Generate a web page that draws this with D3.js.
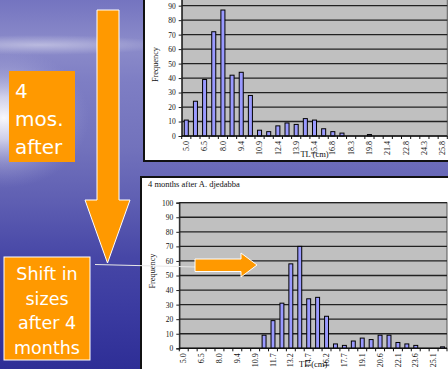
<!DOCTYPE html>
<html><head><meta charset="utf-8">
<script src="https://cdn.jsdelivr.net/npm/d3@7/dist/d3.min.js"></script>
<style>
html,body{margin:0;padding:0;overflow:hidden;background:#3a3aa0}
svg{display:block}
</style>
</head><body>
<svg id="slide" width="448" height="369"></svg>
<script>
// Length classes (TL, cm) and fish counts before and 4 months after
const beforeBins = ["5.0","5.7","6.5","7.2","8.0","8.7","9.4","10.2","10.9","11.6","12.4","13.1","13.9","14.6","15.4","16.1","16.8","17.6","18.3","19.1","19.8","20.6","21.4","22.1","22.8","23.6","24.3","25.1","25.8"];
const beforeCounts = [11,24,39,72,87,42,44,28,4,3,7,9,8,12,11,5,3,2,0,0,1,0,0,0,0,0,0,0,0];
const afterBins = ["5.0","5.7","6.5","7.2","8.0","8.7","9.4","10.2","10.9","11.3","11.7","12.4","13.2","13.9","14.7","15.4","16.2","16.9","17.7","18.4","19.1","19.9","20.6","21.4","22.1","22.8","23.6","24.3","25.1","25.8"];
const afterCounts = [0,0,0,0,0,0,0,0,0,9,19,31,58,70,34,35,22,3,2,5,7,6,9,9,4,3,2,0,0,1];
const yTicks = [0,10,20,30,40,50,60,70,80,90,100];
const afterTitle = "4 months after A. djedabba";
const xTitle = "TL (cm)";
const yTitle = "Frequency";
const note1 = ["4","mos.","after"];
const note2 = ["Shift in","sizes","after 4","months"];

const svg = d3.select("#slide");
const defs = svg.append("defs");

// slide background: blue water with a pale haze on the left
const lg = defs.append("linearGradient").attr("id","bg").attr("x1",0).attr("y1",0).attr("x2",0).attr("y2",1);
[[0,"#7474c0"],[0.12,"#8c8cca"],[0.22,"#7e7ec4"],[0.4,"#7272bc"],[0.55,"#5e5eb2"],[0.7,"#4646a6"],[0.85,"#3a3aa0"],[1,"#2e2e96"]]
  .forEach(([o,c]) => lg.append("stop").attr("offset",o).attr("stop-color",c));
const rg = defs.append("radialGradient").attr("id","haze").attr("gradientUnits","userSpaceOnUse")
  .attr("cx",0).attr("cy",0).attr("r",1)
  .attr("gradientTransform","translate(4,118) scale(85,70)");
[[0,"#ffffff",0.95],[0.3,"#e6e6f4",0.8],[0.65,"#c4c4e4",0.35],[1,"#a0a0d8",0]]
  .forEach(([o,c,a]) => rg.append("stop").attr("offset",o).attr("stop-color",c).attr("stop-opacity",a));
const sk = defs.append("radialGradient").attr("id","streak").attr("gradientUnits","userSpaceOnUse")
  .attr("cx",0).attr("cy",0).attr("r",1)
  .attr("gradientTransform","translate(40,45) scale(130,10)");
[[0,"#ffffff",0.4],[1,"#ffffff",0]]
  .forEach(([o,c,a]) => sk.append("stop").attr("offset",o).attr("stop-color",c).attr("stop-opacity",a));

svg.append("rect").attr("width",448).attr("height",369).attr("fill","url(#bg)");
svg.append("rect").attr("width",448).attr("height",369).attr("fill","url(#streak)");
svg.append("rect").attr("width",448).attr("height",369).attr("fill","url(#haze)");

const serif = "'Liberation Serif','Times New Roman',serif";

function histogram(o) {
  const g = svg.append("g");
  // white chart panel
  g.append("rect").attr("x",o.panel[0]).attr("y",o.panel[1]).attr("width",o.panel[2]).attr("height",o.panel[3])
    .attr("fill","#fff").attr("stroke","#111").attr("stroke-width",2);

  const x = d3.scaleBand().domain(o.bins).range([o.left,o.right]).paddingInner(0.56).paddingOuter(0.28);
  const y = d3.scaleLinear().domain([0,100]).range([o.base,o.top]);
  const shownTicks = yTicks.filter(t => y(t) >= 0);

  // gray plot area
  g.append("rect").attr("x",o.left).attr("y",y(100)).attr("width",o.right-o.left).attr("height",y(0)-y(100))
    .attr("fill","#c0c0c0").attr("stroke","#555").attr("stroke-width",1);

  // horizontal gridlines
  g.selectAll("line.grid").data(yTicks.filter(t => t > 0)).join("line").attr("class","grid")
    .attr("x1",o.left).attr("x2",o.right).attr("y1",d => y(d)).attr("y2",d => y(d))
    .attr("stroke","#222").attr("stroke-width",1.3);

  // bars
  g.selectAll("rect.bar").data(o.counts.map((v,i) => ({bin:o.bins[i], v})).filter(d => d.v > 0)).join("rect")
    .attr("class","bar")
    .attr("x",d => x(d.bin)).attr("width",x.bandwidth())
    .attr("y",d => y(d.v)).attr("height",d => y(0)-y(d.v))
    .attr("fill","#9a9aff").attr("stroke","#000").attr("stroke-width",1);

  // y axis
  const ya = g.append("g").attr("transform",`translate(${o.left},0)`)
    .call(d3.axisLeft(y).tickValues(shownTicks).tickSize(3).tickPadding(3));
  ya.select(".domain").attr("stroke","#222").attr("stroke-width",1.2);
  ya.selectAll(".tick line").attr("stroke","#222");
  ya.selectAll("text").attr("font-family",serif).attr("font-size",7.5).attr("fill","#111");

  // x axis line with tick marks between length classes
  g.append("line").attr("x1",o.left).attr("x2",o.right).attr("y1",y(0)).attr("y2",y(0))
    .attr("stroke","#111").attr("stroke-width",1.5);
  const bounds = o.bins.map(b => x(b) - (x.step()-x.bandwidth())/2).concat([o.right]);
  g.selectAll("line.xt").data(bounds).join("line").attr("class","xt")
    .attr("x1",d => d).attr("x2",d => d).attr("y1",y(0)).attr("y2",y(0)+3)
    .attr("stroke","#111").attr("stroke-width",1);

  // category labels on every other length class
  const xa = g.append("g").attr("transform",`translate(0,${y(0)})`)
    .call(d3.axisBottom(x).tickValues(o.bins.filter((b,i) => i % 2 === 0)).tickSize(0));
  xa.select(".domain").remove();
  xa.selectAll("text").attr("font-family",serif).attr("font-size",8).attr("fill","#111")
    .attr("transform","rotate(-90)").attr("text-anchor","end").attr("x",-5).attr("y",0).attr("dy","0.33em");

  // axis titles
  g.append("text").attr("x",(o.left+o.right)/2).attr("y",o.xTitleY).attr("text-anchor","middle")
    .attr("font-family",serif).attr("font-size",8.5).attr("fill","#111").text(xTitle);
  g.append("text").attr("transform",`translate(${o.yTitleX},${o.yTitleY}) rotate(-90)`).attr("text-anchor","middle")
    .attr("font-family",serif).attr("font-size",8.3).attr("fill","#111").text(yTitle);
  if (o.title) {
    g.append("text").attr("x",o.panel[0]+7).attr("y",o.panel[1]+10).attr("font-family",serif)
      .attr("font-size",8.5).attr("fill","#111").text(o.title);
  }
  return g;
}

histogram({bins:beforeBins, counts:beforeCounts, panel:[144,-10,312,171],
  left:181.7, right:447.3, base:136, top:-8.8, xTitleY:156.5, yTitleX:157.5, yTitleY:64.5});
histogram({bins:afterBins, counts:afterCounts, panel:[141,177,315,200], title:afterTitle,
  left:179.3, right:447, base:348.3, top:202.7, xTitleY:366.5, yTitleX:154.5, yTitleY:271});

// callouts
const orange = "#ff9900";
svg.append("path").attr("d","M97,10 L119,10 L119,200 L130,200 L107.5,263 L85,200 L97,200 Z")
  .attr("fill",orange).attr("stroke","#fff").attr("stroke-width",1);
svg.append("line").attr("x1",95).attr("y1",264.5).attr("x2",196).attr("y2",267)
  .attr("stroke","#e8e8e8").attr("stroke-width",1);
svg.append("path").attr("d","M195,259 L241,259 L241,253 L257,265 L241,277 L241,271.5 L195,271.5 Z")
  .attr("fill",orange).attr("stroke","#fff").attr("stroke-width",1);

const sans = "'DejaVu Sans',Verdana,sans-serif";
svg.append("rect").attr("x",9).attr("y",71).attr("width",66).attr("height",91).attr("fill",orange);
svg.append("g").selectAll("text").data(note1).join("text")
  .attr("x",15).attr("y",(d,i) => 98 + i*28).attr("font-family",sans).attr("font-size",20).attr("fill","#fff").text(d => d);

svg.append("rect").attr("x",4).attr("y",257).attr("width",86).attr("height",103).attr("fill",orange)
  .attr("stroke","#fff").attr("stroke-width",1);
svg.append("g").selectAll("text").data(note2).join("text")
  .attr("x",47).attr("y",(d,i) => 280 + i*24.5).attr("text-anchor","middle").attr("font-family",sans)
  .attr("font-size",17.5).attr("fill","#fff").text(d => d);
</script>
</body></html>
